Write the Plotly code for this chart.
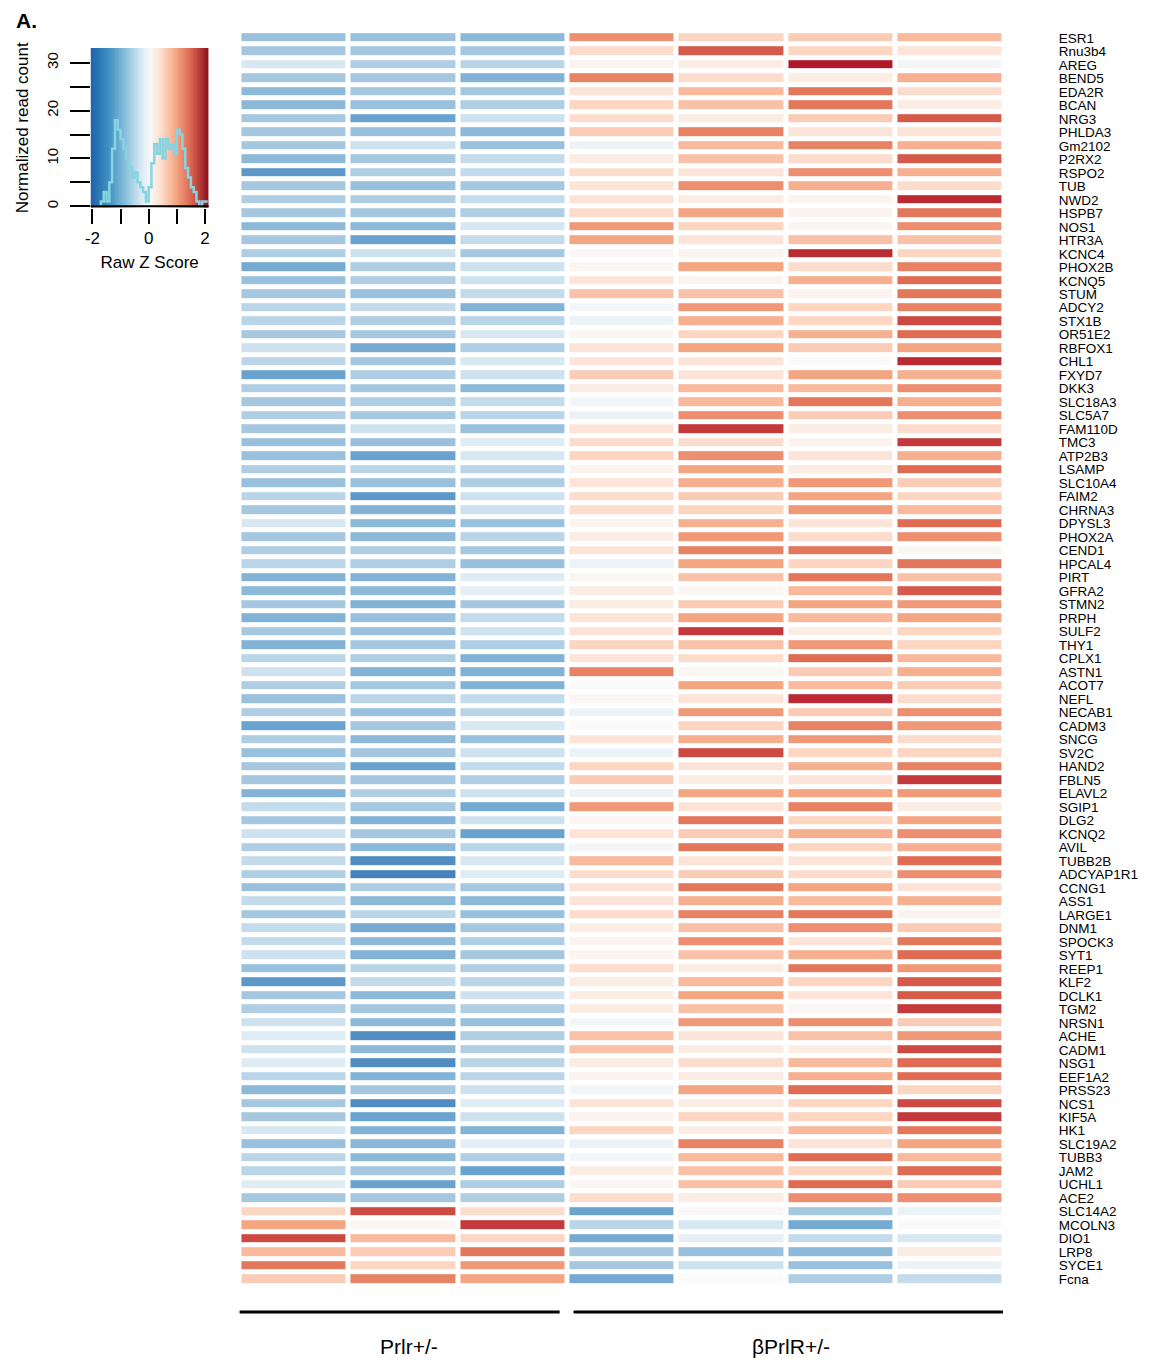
import plotly.graph_objects as go
import numpy as np

genes = ["ESR1","Rnu3b4","AREG","BEND5","EDA2R","BCAN","NRG3","PHLDA3","Gm2102","P2RX2",
 "RSPO2","TUB","NWD2","HSPB7","NOS1","HTR3A","KCNC4","PHOX2B","KCNQ5","STUM",
 "ADCY2","STX1B","OR51E2","RBFOX1","CHL1","FXYD7","DKK3","SLC18A3","SLC5A7","FAM110D",
 "TMC3","ATP2B3","LSAMP","SLC10A4","FAIM2","CHRNA3","DPYSL3","PHOX2A","CEND1","HPCAL4",
 "PIRT","GFRA2","STMN2","PRPH","SULF2","THY1","CPLX1","ASTN1","ACOT7","NEFL",
 "NECAB1","CADM3","SNCG","SV2C","HAND2","FBLN5","ELAVL2","SGIP1","DLG2","KCNQ2",
 "AVIL","TUBB2B","ADCYAP1R1","CCNG1","ASS1","LARGE1","DNM1","SPOCK3","SYT1","REEP1",
 "KLF2","DCLK1","TGM2","NRSN1","ACHE","CADM1","NSG1","EEF1A2","PRSS23","NCS1",
 "KIF5A","HK1","SLC19A2","TUBB3","JAM2","UCHL1","ACE2","SLC14A2","MCOLN3","DIO1",
 "LRP8","SYCE1","Fcna"]

samples = ["Prlr+/- 1","Prlr+/- 2","Prlr+/- 3","βPrlR+/- 1","βPrlR+/- 2","βPrlR+/- 3","βPrlR+/- 4"]

prlr_1 = [-1.1,-1.0,-0.5,-1.0,-1.2,-1.2,-1.0,-1.0,-1.0,-1.2,
 -1.6,-1.0,-0.9,-1.0,-1.2,-1.0,-0.9,-1.4,-1.1,-1.0,
 -0.8,-0.8,-1.0,-0.6,-0.8,-1.5,-0.9,-1.0,-0.9,-1.0,
 -1.1,-1.1,-0.9,-1.1,-0.8,-1.0,-0.5,-1.0,-0.9,-0.8,
 -1.3,-1.2,-1.0,-1.3,-1.0,-1.3,-0.8,-0.6,-0.9,-1.1,
 -0.9,-1.5,-0.9,-1.1,-1.0,-1.0,-1.3,-0.7,-1.0,-0.6,
 -0.9,-0.7,-0.9,-1.1,-0.7,-1.0,-0.7,-0.7,-0.6,-1.1,
 -1.6,-1.0,-0.9,-0.6,-0.4,-0.6,-0.4,-0.8,-1.2,-1.0,
 -1.0,-0.5,-1.1,-0.8,-0.8,-0.4,-1.0,0.5,1.0,1.7,
 0.8,1.4,0.6]
prlr_2 = [-1.1,-1.0,-0.9,-1.0,-1.0,-1.1,-1.5,-1.1,-0.6,-1.0,
 -0.9,-1.1,-0.9,-1.0,-1.2,-1.5,-0.6,-0.9,-0.9,-1.1,
 -0.7,-0.9,-1.0,-1.4,-1.0,-0.9,-1.0,-0.9,-1.0,-0.6,
 -1.1,-1.5,-0.8,-1.1,-1.6,-1.3,-1.2,-1.2,-0.9,-0.9,
 -1.3,-1.2,-1.3,-1.1,-1.1,-1.0,-0.9,-1.3,-1.0,-0.8,
 -1.1,-1.0,-1.2,-1.0,-1.5,-1.0,-0.9,-1.0,-1.3,-1.0,
 -1.2,-1.7,-1.8,-0.9,-1.2,-0.8,-1.4,-1.2,-1.3,-0.8,
 -0.7,-1.2,-1.0,-1.2,-1.7,-1.2,-1.7,-1.3,-1.0,-1.7,
 -1.5,-1.3,-1.2,-1.2,-1.0,-1.5,-1.0,1.7,0.05,0.8,
 0.6,0.5,1.3]
prlr_3 = [-1.2,-1.0,-0.8,-1.3,-1.0,-0.9,-0.6,-1.2,-1.1,-0.7,
 -0.7,-1.0,-0.7,-0.9,-0.5,-0.7,-1.0,-0.6,-0.6,-0.7,
 -1.3,-0.8,-0.5,-0.9,-0.5,-0.6,-1.2,-0.7,-0.8,-1.1,
 -0.4,-0.5,-0.8,-0.9,-0.6,-0.6,-1.1,-0.8,-1.0,-1.1,
 -0.4,-0.3,-1.0,-0.7,-0.6,-0.9,-1.3,-1.3,-1.3,-0.7,
 -0.8,-0.5,-1.1,-0.6,-0.7,-0.9,-0.6,-1.4,-0.6,-1.5,
 -0.8,-0.5,-0.4,-1.0,-1.2,-1.1,-1.0,-0.9,-1.0,-0.9,
 -0.8,-0.6,-0.9,-1.1,-0.9,-0.9,-0.8,-0.8,-0.6,-0.4,
 -0.6,-1.3,-0.3,-0.9,-1.5,-0.9,-0.9,0.4,1.8,0.5,
 1.4,1.1,1.0]
bprlr_1 = [1.2,0.4,0.1,1.3,0.3,0.5,0.4,0.6,-0.2,0.2,
 0.4,0.3,0.3,0.4,1.1,1.0,0.05,0.05,0.3,0.7,
 -0.1,-0.2,0.05,0.3,0.3,0.6,0.2,-0.1,-0.2,0.3,
 0.4,0.5,0.1,0.3,0.4,0.4,0.1,0.2,0.3,-0.2,
 0.05,0.2,0.2,0.3,0.3,0.5,0.3,1.3,0.0,0.05,
 -0.2,0.0,0.3,-0.2,0.5,0.6,-0.2,1.1,0.05,0.3,
 -0.1,0.8,0.4,0.3,0.3,0.4,0.2,0.1,0.1,0.4,
 0.2,0.2,0.2,-0.1,0.7,0.7,0.2,0.1,-0.1,0.3,
 0.1,0.5,-0.2,-0.1,0.2,0.05,0.4,-1.5,-0.8,-1.4,
 -1.0,-1.0,-1.4]
bprlr_2 = [0.5,1.6,0.2,0.4,0.8,0.7,0.2,1.3,0.8,0.7,
 0.3,1.2,0.2,1.0,0.5,0.3,0.1,1.0,0.1,0.7,
 1.1,0.9,0.5,1.0,0.3,0.3,0.8,0.8,1.2,1.8,
 0.4,1.2,1.0,0.9,0.6,0.5,0.9,1.1,1.3,1.0,
 0.7,0.05,0.6,1.0,1.8,0.7,0.4,0.05,1.0,0.3,
 1.1,0.5,0.9,1.7,0.3,0.2,1.0,0.3,1.4,0.6,
 1.4,0.3,0.6,1.4,0.9,1.3,0.7,1.2,0.7,0.2,
 0.8,1.0,0.7,1.1,0.3,0.2,0.4,0.2,1.0,0.2,
 0.5,0.2,1.3,0.8,0.7,0.7,0.2,0.05,-0.5,-0.3,
 -1.1,-0.6,0.0]
bprlr_3 = [0.6,0.5,2.0,0.2,1.4,1.4,0.6,0.3,1.3,0.4,
 1.2,0.9,0.1,0.1,0.05,0.7,1.9,0.4,0.9,0.1,
 0.5,0.5,0.9,0.6,0.0,1.0,0.8,1.4,0.6,0.2,
 0.1,0.3,0.2,1.1,1.0,1.1,0.3,0.4,1.4,0.5,
 1.4,0.8,1.0,0.8,0.2,1.1,1.5,0.6,0.8,1.9,
 0.6,1.3,1.1,0.5,0.9,0.3,1.0,1.3,0.5,0.9,
 0.5,0.3,0.4,1.0,0.8,1.4,1.2,0.3,0.9,1.4,
 0.5,0.3,0.05,1.2,0.7,0.2,0.8,0.9,1.5,0.5,
 0.5,0.8,0.3,1.5,0.5,1.5,1.2,-1.0,-1.4,-0.7,
 -1.2,-1.1,-0.9]
bprlr_4 = [0.8,0.3,-0.1,0.9,0.4,0.2,1.6,0.3,0.9,1.6,
 0.9,0.4,1.9,1.4,1.2,0.7,0.5,1.3,1.5,1.4,
 1.3,1.7,1.5,1.0,1.9,0.9,1.2,0.9,1.2,0.4,
 1.8,0.9,1.5,0.6,0.5,0.8,1.5,1.2,0.05,1.4,
 0.7,1.6,1.1,1.0,0.5,0.5,0.8,0.9,0.6,0.4,
 1.2,1.1,0.4,0.5,1.3,1.8,1.1,0.2,1.0,1.2,
 0.9,1.5,1.2,0.3,0.9,0.1,0.6,1.4,1.5,1.1,
 1.6,1.6,1.8,0.6,1.1,1.7,1.5,1.5,0.5,1.7,
 1.8,1.4,1.0,0.8,1.5,0.6,1.2,-0.2,0.0,-0.5,
 0.2,-0.2,-0.7]

# colour-key histogram (counts per 0.1 bin)
hist_left_edge = -2.0
hist_bin = 0.1
hist_counts = [0,0,0,1,3,1,5,12,18,16,14,12,10,8,6,7,5,4,3,1,
               4,9,13,11,14,10,14,12,13,11,16,15,12,8,6,4,3,1,0,1,1]

key_ticks = [-2,-1,0,1,2]
key_ticktext = ["-2","","0","","2"]
count_ticks = [0,5,10,15,20,25,30]
count_ticktext = ["0","","10","","20","","30"]

# page body has an 8px margin: figure is sized/offset to fit the 1154x1363 window
OFF = 8
W, H = 1154 - OFF, 1363 - OFF
def px(x): return (x - OFF) / W
def py(y): return 1 - (y - OFF) / H

cscale = [[0.0,"#2c6db0"],[0.125,"#6aa3cf"],[0.25,"#a5c8e0"],[0.375,"#d7e8f2"],
          [0.5,"#fafafa"],[0.625,"#fdd6c2"],[0.75,"#f4a582"],[0.875,"#df6b52"],[1.0,"#b2182b"]]

cols = [prlr_1, prlr_2, prlr_3, bprlr_1, bprlr_2, bprlr_3, bprlr_4]
z = np.array(cols).T

fig = go.Figure()
fig.add_trace(go.Heatmap(
    z=z, x=list(range(len(samples))), y=list(range(len(genes))),
    colorscale=cscale, zmin=-2, zmax=2, showscale=False,
    xgap=5, ygap=5, hoverinfo="skip", xaxis="x", yaxis="y"))

# colour key gradient
key_cscale = [[0.0,"#2166ac"],[0.15,"#4393c3"],[0.3,"#92c5de"],[0.42,"#d8e9f3"],
              [0.5,"#f8f8f8"],[0.6,"#fddbc7"],[0.72,"#f4a582"],[0.86,"#d6604d"],[1.0,"#8e0f1c"]]
kx = np.linspace(-2.07, 2.14, 201)
kz = [((kx[:-1] + kx[1:]) / 2).tolist()]
fig.add_trace(go.Heatmap(z=kz, x=kx, y=[-0.3, 33.1], colorscale=key_cscale, zmin=-2, zmax=2.14,
                         showscale=False, hoverinfo="skip", xaxis="x2", yaxis="y2"))
hx = [hist_left_edge + i * hist_bin for i in range(len(hist_counts) + 1)]
hy = hist_counts + [hist_counts[-1]]
fig.add_trace(go.Scatter(x=hx, y=hy, mode="lines", line=dict(color="#86d4e2", width=2.5, shape="hv"),
                         hoverinfo="skip", xaxis="x2", yaxis="y2"))

fig.update_layout(
    width=W, height=H, margin=dict(l=0, r=0, t=0, b=0),
    paper_bgcolor="white", plot_bgcolor="white", showlegend=False,
    font=dict(family="Liberation Sans, Arial, sans-serif", color="black"),
    xaxis=dict(domain=[px(234.8), px(1004.8)], range=[-0.5, 6.5], showticklabels=False,
               showgrid=False, zeroline=False, ticks=""),
    yaxis=dict(domain=[py(1286.8), py(30.2)], range=[92.5, -0.5], side="right",
               tickmode="array", tickvals=list(range(len(genes))), ticktext=genes,
               ticks="", showgrid=False, zeroline=False, ticklabelstandoff=53,
               tickfont=dict(size=13.5, family="Liberation Sans Narrow, Liberation Sans, Arial", color="black")),
    xaxis2=dict(domain=[px(85), px(204)], range=[-2.07, 2.14], anchor="y2",
                tickmode="array", tickvals=key_ticks, ticktext=key_ticktext,
                ticks="outside", ticklen=15, tickwidth=2, tickcolor="black",
                showline=False, showgrid=False, zeroline=False,
                tickfont=dict(size=17), title=dict(text="Raw Z Score", font=dict(size=17), standoff=8)),
    yaxis2=dict(domain=[py(207), py(47)], range=[-0.3, 33.1], anchor="x2",
                tickmode="array", tickvals=count_ticks, ticktext=count_ticktext,
                ticks="outside", ticklen=20, tickwidth=2, tickcolor="black", tickangle=-90,
                ticklabelstandoff=6,
                showline=False, showgrid=False, zeroline=False,
                tickfont=dict(size=15), title=dict(text="Normalized read count", font=dict(size=17), standoff=10)),
)

shapes = [
    dict(type="line", xref="x2", yref="y2", x0=-2.07, x1=2.14, y0=0, y1=0, line=dict(color="black", width=2)),
    dict(type="line", xref="paper", yref="paper", x0=px(235), x1=px(557), y0=py(1313), y1=py(1313), line=dict(color="black", width=3)),
    dict(type="line", xref="paper", yref="paper", x0=px(571), x1=px(1003), y0=py(1313), y1=py(1313), line=dict(color="black", width=3)),
]
fig.update_layout(shapes=shapes)

fig.add_annotation(text="<b>A.</b>", xref="paper", yref="paper", x=px(8), y=py(20), showarrow=False,
                   xanchor="left", yanchor="middle", font=dict(size=21))
fig.add_annotation(text="Prlr+/-", xref="paper", yref="paper", x=px(405), y=py(1347), showarrow=False,
                   xanchor="center", yanchor="middle", font=dict(size=21, family="Liberation Sans Narrow, Liberation Sans"))
fig.add_annotation(text="βPrlR+/-", xref="paper", yref="paper", x=px(790), y=py(1347), showarrow=False,
                   xanchor="center", yanchor="middle", font=dict(size=21, family="Liberation Sans Narrow, Liberation Sans"))

fig.write_html("out.html")
